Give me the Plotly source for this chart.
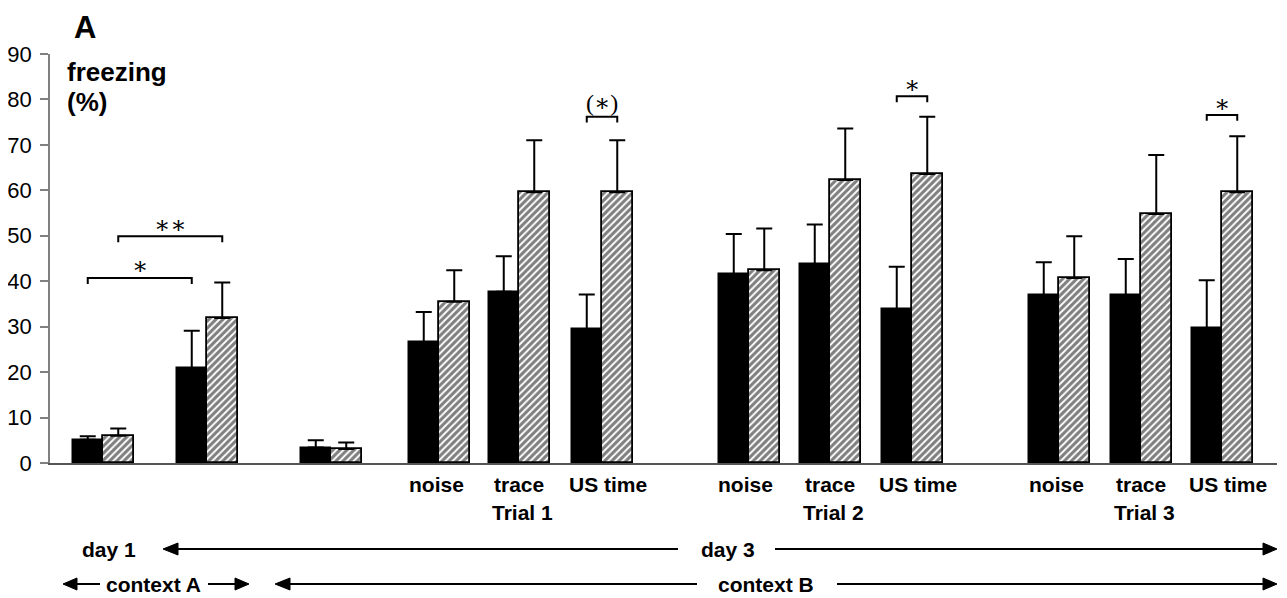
import plotly.graph_objects as go

# ---------------- data ----------------
categories = ["ctxA 1", "ctxA 2", "ctxB base",
              "T1 noise", "T1 trace", "T1 US time",
              "T2 noise", "T2 trace", "T2 US time",
              "T3 noise", "T3 trace", "T3 US time"]
black_mean = [5.1, 20.9, 3.4, 26.6, 37.7, 29.4, 41.6, 43.8, 33.8, 36.9, 36.9, 29.7]
black_err = [0.8, 8.2, 1.6, 6.6, 7.8, 7.7, 8.8, 8.7, 9.4, 7.3, 8.0, 10.5]
hatch_mean = [6.0, 31.9, 3.1, 35.5, 59.6, 59.6, 42.4, 62.3, 63.6, 40.7, 54.8, 59.6]
hatch_err = [1.6, 7.8, 1.4, 6.9, 11.4, 11.4, 9.2, 11.3, 12.6, 9.2, 13.0, 12.3]
y_ticks = [0, 10, 20, 30, 40, 50, 60, 70, 80, 90]
sub_labels = ["noise", "trace", "US time"]
trial_labels = ["Trial 1", "Trial 2", "Trial 3"]

# ---------------- layout geometry ----------------
OFF = 8  # page body margin
W, H = 1287 - OFF, 598 - OFF
L, T = 50 - OFF, 54 - OFF
PLOT_BOTTOM = 463 - OFF
PLOT_RIGHT = 1277 - OFF
R, B = W - PLOT_RIGHT, H - PLOT_BOTTOM
PW, PH = PLOT_RIGHT - L, PLOT_BOTTOM - T
# category centres along the x axis (pixel-like axis units)
group_x = [53, 157, 281, 389, 469, 552, 699, 780, 862, 1009, 1091, 1172]
bw = 30.5


def xp(px):  # screen pixel -> paper x
    return (px - OFF - L) / PW


def yp(py):  # screen pixel -> paper y
    return (PLOT_BOTTOM - (py - OFF)) / PH


def ypix_to_data(py):
    return yp(py) * 90


SANS = "Liberation Sans, Arial, sans-serif"
SERIF = "Liberation Serif, DejaVu Serif, Times New Roman, serif"

fig = go.Figure()
fig.add_trace(go.Bar(
    x=[g - bw / 2 for g in group_x], y=black_mean, width=bw, name="black",
    marker=dict(color="black", line=dict(color="black", width=1.5)),
    error_y=dict(type="data", symmetric=False, array=black_err,
                 arrayminus=[0] * len(black_err), color="black", thickness=2, width=8),
    hovertext=categories,
))
fig.add_trace(go.Bar(
    x=[g + bw / 2 for g in group_x], y=hatch_mean, width=bw, name="hatched",
    marker=dict(color="white", line=dict(color="black", width=1.8),
                pattern=dict(shape="/", fgcolor="black", bgcolor="white",
                             size=5, solidity=0.62)),
    error_y=dict(type="data", symmetric=False, array=hatch_err,
                 arrayminus=[0] * len(hatch_err), color="black", thickness=2, width=8),
    hovertext=categories,
))

shapes = []
annotations = []

# ---------- significance brackets (data coords) ----------
def bracket(x0, x1, ytop, text, text_py, drop=1.3):
    shapes.append(dict(type="path", xref="x", yref="y",
                       path=f"M {x0},{ytop - drop} L {x0},{ytop} L {x1},{ytop} L {x1},{ytop - drop}",
                       line=dict(color="black", width=2)))
    annotations.append(dict(x=(x0 + x1) / 2, y=ypix_to_data(text_py), xref="x", yref="y",
                            text=text, showarrow=False, xanchor="center", yanchor="middle",
                            font=dict(family=SERIF, size=24, color="black")))

bk = [g - bw / 2 for g in group_x]
hk = [g + bw / 2 for g in group_x]
bracket(bk[0], bk[1], 40.7, "\u2217", 266)
bracket(hk[0], hk[1], 49.9, "\u2217\u2217", 225)
bracket(bk[5], hk[5], 76.2, "(\u2217)", 103)
bracket(bk[8], hk[8], 80.7, "\u2217", 85)
bracket(bk[11], hk[11], 76.6, "\u2217", 103.5)

# ---------- text labels ----------
def text(px, py, s, size, bold=True, family=SANS, xanchor="center", yanchor="middle"):
    annotations.append(dict(x=xp(px), y=yp(py), xref="paper", yref="paper", text=f"<b>{s}</b>" if bold else s,
                            showarrow=False, xanchor=xanchor, yanchor=yanchor,
                            font=dict(family=family, size=size, color="black")))

text(85, OFF, "A", 31, yanchor="top")
text(65, 72, "freezing", 26, xanchor="left")
text(65, 102, "(%)", 26, xanchor="left")

label_offsets = [-3, 0, 6]
for t in range(3):
    for k in range(3):
        gi = 3 + 3 * t + k
        text(group_x[gi] + 50 + label_offsets[k], 484.5, sub_labels[k], 21)
    text(group_x[3 + 3 * t + 1] + 50 + 3, 512.5, trial_labels[t], 21)

text(108.5, 549, "day 1", 21)
text(728, 549, "day 3", 21)
text(153.5, 584.5, "context A", 21)
text(766, 584.5, "context B", 21)

# ---------- arrows (paper coords) ----------
def hline(x0, x1, py):
    shapes.append(dict(type="line", xref="paper", yref="paper", x0=xp(x0), x1=xp(x1),
                       y0=yp(py), y1=yp(py), line=dict(color="black", width=2)))


def head(tip, base, py, half=6):
    shapes.append(dict(type="path", xref="paper", yref="paper",
                       path=f"M {xp(tip)},{yp(py)} L {xp(base)},{yp(py - half)} L {xp(base)},{yp(py + half)} Z",
                       fillcolor="black", line=dict(color="black", width=1)))

# day row
head(163, 178, 549); hline(178, 678, 549)
hline(775, 1263, 549); head(1277, 1263, 549)
# context row
head(63, 77, 584); hline(77, 100, 584)
hline(208, 236, 584); head(249, 235, 584)
head(275, 290, 584); hline(290, 697, 584)
hline(837, 1263, 584); head(1277, 1263, 584)

fig.update_layout(
    width=W, height=H,
    margin=dict(l=L, r=R, t=T, b=B, autoexpand=False),
    plot_bgcolor="white", paper_bgcolor="white",
    showlegend=False, barmode="overlay", bargap=0,
    shapes=shapes, annotations=annotations,
    font=dict(family=SANS, color="black"),
)
fig.update_xaxes(range=[0, PW], showgrid=False, zeroline=False, showticklabels=False,
                 showline=True, linecolor="#555555", linewidth=1.5, ticks="")
fig.update_yaxes(range=[0, 90], tickvals=y_ticks, showgrid=False, zeroline=False,
                 showline=True, linecolor="#808080", linewidth=1.5,
                 ticks="outside", ticklen=8, tickcolor="#808080", tickwidth=1.5,
                 tickfont=dict(family=SANS, size=22, color="black"), ticklabelstandoff=4)

fig.write_html("out.html")
